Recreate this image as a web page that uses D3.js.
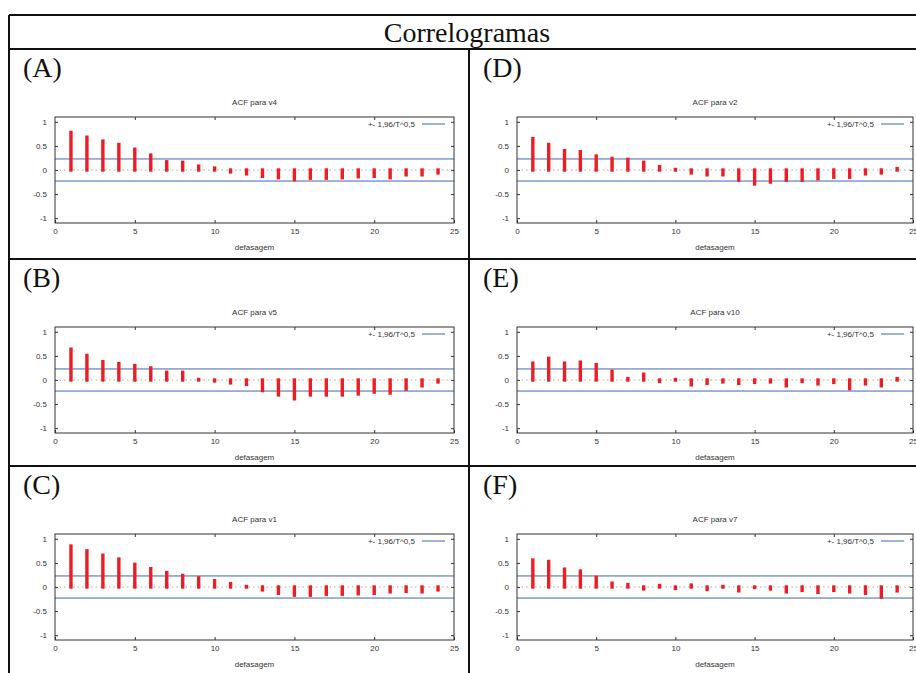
<!DOCTYPE html>
<html>
<head>
<meta charset="utf-8">
<script src="https://cdn.jsdelivr.net/npm/d3@7"></script>
<style>
  body { margin: 0; background: #fff; }
  svg text { font-family: "Liberation Sans", Arial, sans-serif; }
</style>
</head>
<body>
<script>
// lags 1..24
const lags = d3.range(1, 25);

const acfV4  = [0.78,0.68,0.60,0.53,0.43,0.31,0.17,0.16,0.08,0.04,-0.04,-0.08,-0.13,-0.16,-0.20,-0.17,-0.17,-0.16,-0.14,-0.13,-0.16,-0.10,-0.10,-0.06];
const acfV5  = [0.64,0.51,0.38,0.34,0.30,0.25,0.16,0.16,0.01,-0.02,-0.06,-0.09,-0.22,-0.31,-0.39,-0.31,-0.31,-0.31,-0.29,-0.25,-0.27,-0.19,-0.12,-0.04];
const acfV1  = [0.85,0.75,0.66,0.58,0.47,0.38,0.30,0.24,0.19,0.13,0.07,0.01,-0.06,-0.13,-0.17,-0.17,-0.15,-0.15,-0.14,-0.13,-0.10,-0.09,-0.10,-0.06];
const acfV2  = [0.65,0.53,0.40,0.38,0.29,0.24,0.22,0.16,0.07,0.01,-0.06,-0.10,-0.10,-0.21,-0.29,-0.25,-0.21,-0.21,-0.18,-0.15,-0.15,-0.08,-0.06,0.03];
const acfV10 = [0.35,0.45,0.35,0.37,0.32,0.18,0.03,0.12,-0.03,0.01,-0.10,-0.07,-0.04,-0.07,-0.05,-0.04,-0.12,-0.03,-0.08,-0.05,-0.18,-0.08,-0.12,0.03];
const acfV7  = [0.56,0.53,0.37,0.33,0.20,0.08,0.05,-0.04,0.03,-0.03,0.04,-0.05,0.01,-0.08,-0.01,-0.04,-0.10,-0.07,-0.11,-0.07,-0.10,-0.13,-0.21,-0.08];

const bandLevel = 0.229;              // +- 1,96/T^0,5
const xTicks = [0,5,10,15,20,25];
const yTicks = [-1,-0.5,0,0.5,1];

const panelLabels = ["(A)","(B)","(C)","(D)","(E)","(F)"];
const panelVars   = ["v4","v5","v1","v2","v10","v7"];
const panelSeries = [acfV4, acfV5, acfV1, acfV2, acfV10, acfV7];

const W = 916, H = 673;
const svg = d3.select("body").append("svg")
  .attr("width", W).attr("height", H);

// table frame
const rowTops = [49, 259, 466];
const colLefts = [9, 469];
const frame = svg.append("g").attr("stroke", "#111").attr("stroke-width", 2);
frame.append("line").attr("x1", 9).attr("x2", W).attr("y1", 15).attr("y2", 15);
frame.append("line").attr("x1", 9).attr("x2", 9).attr("y1", 15).attr("y2", H);
frame.append("line").attr("x1", 9).attr("x2", W).attr("y1", 49).attr("y2", 49);
frame.append("line").attr("x1", 469).attr("x2", 469).attr("y1", 49).attr("y2", H);
frame.append("line").attr("x1", 9).attr("x2", W).attr("y1", 259).attr("y2", 259);
frame.append("line").attr("x1", 9).attr("x2", W).attr("y1", 466).attr("y2", 466);

svg.append("text")
  .attr("x", 467).attr("y", 42)
  .attr("text-anchor", "middle")
  .style("font-family", "'Liberation Serif', 'Times New Roman', serif")
  .style("font-size", "28px")
  .attr("fill", "#111")
  .text("Correlogramas");

const plotX = [[55, 454], [517, 913]];

panelSeries.forEach(function(vals, i){
  let col = Math.floor(i / 3), row = i % 3;
  let top = rowTops[row];
  let g = svg.append("g");

  g.append("text")
    .attr("x", colLefts[col] + 14).attr("y", top + 28)
    .style("font-family", "'Liberation Serif', 'Times New Roman', serif")
    .style("font-size", "28px")
    .attr("fill", "#111")
    .text(panelLabels[i]);

  let x = d3.scaleLinear().domain([0, 25]).range(plotX[col]);
  let y = d3.scaleLinear().domain([-1.1, 1.1]).range([top + 174, top + 68]);
  let [x0, x1] = x.range();
  let [y1, y0] = y.range();

  g.append("text")
    .attr("x", (x0 + x1) / 2).attr("y", y0 - 12)
    .attr("text-anchor", "middle")
    .style("font-size", "8px").attr("fill", "#333")
    .text("ACF para " + panelVars[i]);

  // axes, ticks pointing inward
  let fmt = d => String(d);
  let ax = g.append("g").attr("transform", `translate(0,${y1})`)
    .call(d3.axisBottom(x).tickValues(xTicks).tickSize(-3).tickPadding(5).tickFormat(fmt));
  let axTop = g.append("g").attr("transform", `translate(0,${y0})`)
    .call(d3.axisTop(x).tickValues(xTicks.slice(1, -1)).tickSize(-3).tickFormat(""));
  let ay = g.append("g").attr("transform", `translate(${x0},0)`)
    .call(d3.axisLeft(y).tickValues(yTicks).tickSize(-3).tickPadding(8).tickFormat(fmt));
  let ayR = g.append("g").attr("transform", `translate(${x1},0)`)
    .call(d3.axisRight(y).tickValues(yTicks).tickSize(-3).tickFormat(""));
  [ax, axTop, ay, ayR].forEach(a => {
    a.select(".domain").remove();
    a.selectAll("line").attr("stroke", "#333");
    a.selectAll("text").style("font-size", "8px").attr("fill", "#333")
      .style("font-family", "'Liberation Sans', Arial, sans-serif");
  });

  g.append("text")
    .attr("x", (x0 + x1) / 2).attr("y", y1 + 27)
    .attr("text-anchor", "middle")
    .style("font-size", "8px").attr("fill", "#333")
    .text("defasagem");

  // zero line
  g.append("line")
    .attr("x1", x0).attr("x2", x1).attr("y1", y(0)).attr("y2", y(0))
    .attr("stroke", "#999").attr("stroke-width", 0.8)
    .attr("stroke-dasharray", "1.5,3");

  // confidence band
  [bandLevel, -bandLevel].forEach(b => {
    g.append("line")
      .attr("x1", x0).attr("x2", x1).attr("y1", y(b)).attr("y2", y(b))
      .attr("stroke", "#4466b0").attr("stroke-width", 1);
  });

  // impulses
  g.selectAll("line.bar")
    .data(vals.map((v, k) => ({lag: lags[k], v: v})))
    .enter().append("line")
    .classed("bar", true)
    .attr("x1", d => x(d.lag)).attr("x2", d => x(d.lag))
    .attr("y1", y(0)).attr("y2", d => y(d.v))
    .attr("stroke", "#ee1c25").attr("stroke-width", 3.4)
    .attr("stroke-linecap", "square");

  // legend
  g.append("text")
    .attr("x", x1 - 39).attr("y", y0 + 9.5)
    .attr("text-anchor", "end")
    .style("font-size", "8px").attr("fill", "#333")
    .text("+- 1,96/T^0,5");
  g.append("line")
    .attr("x1", x1 - 32).attr("x2", x1 - 9)
    .attr("y1", y0 + 7).attr("y2", y0 + 7)
    .attr("stroke", "#4466b0").attr("stroke-width", 1);

  // plot border
  g.append("rect")
    .attr("x", x0).attr("y", y0)
    .attr("width", x1 - x0).attr("height", y1 - y0)
    .attr("fill", "none").attr("stroke", "#333").attr("stroke-width", 1);
});
</script>
</body>
</html>
